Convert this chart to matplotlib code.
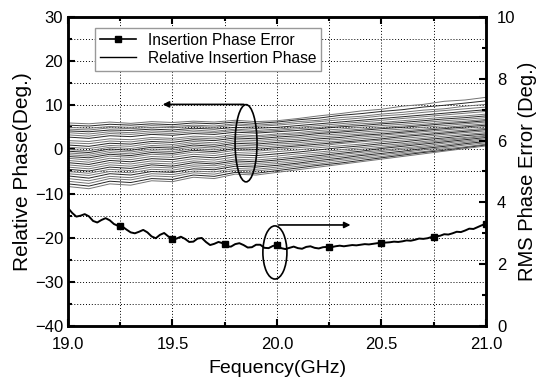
import numpy as np
import matplotlib.pyplot as plt
from matplotlib.patches import Ellipse
from matplotlib.lines import Line2D
from matplotlib.ticker import MultipleLocator

plt.rcParams['font.family'] = ['Liberation Sans', 'DejaVu Sans']

# relative insertion phase of each state, read every 0.1 GHz (deg)
phase_freq = np.linspace(19.0, 21.0, 21)
phase_lines = [
    [6.0, 5.8, 6.2, 5.9, 6.3, 6.1, 6.4, 6.2, 6.6, 6.3, 6.5, 7.0, 7.6, 8.1, 8.7, 9.1, 9.8, 10.2, 10.9, 11.2, 11.8],
    [5.5, 5.3, 5.7, 5.5, 5.8, 5.6, 6.0, 5.8, 6.2, 5.9, 6.2, 6.7, 7.1, 7.7, 8.1, 8.6, 9.0, 9.6, 10.0, 10.5, 11.0],
    [5.0, 4.8, 5.2, 5.0, 5.4, 5.2, 5.5, 5.3, 5.8, 5.5, 5.8, 6.3, 6.6, 7.2, 7.5, 8.0, 8.4, 8.9, 9.2, 9.8, 10.2],
    [4.6, 4.4, 4.9, 4.7, 5.0, 4.9, 5.2, 5.0, 5.5, 5.2, 5.5, 5.9, 6.3, 6.7, 7.1, 7.6, 7.9, 8.4, 8.8, 9.2, 9.6],
    [4.2, 4.0, 4.4, 4.3, 4.6, 4.4, 4.8, 4.6, 5.0, 4.8, 5.0, 5.4, 5.8, 6.2, 6.6, 7.0, 7.4, 7.8, 8.2, 8.6, 9.0],
    [3.8, 3.5, 4.0, 3.8, 4.2, 4.0, 4.4, 4.1, 4.6, 4.3, 4.6, 5.0, 5.4, 5.8, 6.2, 6.6, 7.0, 7.4, 7.8, 8.2, 8.6],
    [3.3, 3.0, 3.6, 3.4, 3.8, 3.6, 4.0, 3.8, 4.3, 4.0, 4.3, 4.7, 5.0, 5.4, 5.8, 6.1, 6.5, 6.9, 7.3, 7.6, 8.0],
    [2.8, 2.5, 3.1, 2.9, 3.4, 3.2, 3.6, 3.4, 3.9, 3.7, 4.0, 4.3, 4.7, 5.1, 5.4, 5.8, 6.1, 6.5, 6.9, 7.2, 7.6],
    [2.0, 1.8, 2.4, 2.2, 2.7, 2.5, 3.0, 2.8, 3.4, 3.1, 3.5, 3.8, 4.3, 4.6, 5.0, 5.4, 5.7, 6.1, 6.5, 6.8, 7.2],
    [1.5, 1.3, 1.9, 1.7, 2.3, 2.1, 2.6, 2.4, 3.0, 2.8, 3.2, 3.5, 3.9, 4.2, 4.6, 5.0, 5.3, 5.7, 6.1, 6.4, 6.8],
    [1.0, 0.7, 1.4, 1.2, 1.8, 1.6, 2.2, 2.0, 2.6, 2.4, 2.8, 3.1, 3.6, 3.9, 4.3, 4.7, 5.0, 5.4, 5.8, 6.1, 6.5],
    [0.5, 0.2, 0.9, 0.7, 1.4, 1.1, 1.8, 1.5, 2.2, 2.0, 2.4, 2.7, 3.2, 3.5, 3.9, 4.3, 4.6, 5.0, 5.4, 5.8, 6.2],
    [0.0, -0.3, 0.5, 0.2, 0.9, 0.7, 1.4, 1.1, 1.8, 1.6, 2.0, 2.3, 2.8, 3.1, 3.5, 3.9, 4.2, 4.6, 5.0, 5.4, 5.8],
    [-0.4, -0.7, 0.1, -0.2, 0.5, 0.3, 1.0, 0.7, 1.4, 1.2, 1.6, 1.9, 2.4, 2.7, 3.2, 3.5, 3.9, 4.3, 4.7, 5.1, 5.5],
    [-0.8, -1.1, -0.3, -0.6, 0.1, -0.1, 0.6, 0.3, 1.0, 0.8, 1.2, 1.5, 2.0, 2.3, 2.8, 3.2, 3.6, 4.0, 4.4, 4.8, 5.2],
    [-1.2, -1.5, -0.7, -1.0, -0.3, -0.5, 0.2, -0.1, 0.6, 0.4, 0.8, 1.1, 1.6, 1.9, 2.4, 2.8, 3.2, 3.6, 4.0, 4.4, 4.8],
    [-1.6, -1.9, -1.1, -1.4, -0.7, -0.9, -0.2, -0.5, 0.2, 0.0, 0.4, 0.8, 1.2, 1.6, 2.0, 2.4, 2.9, 3.3, 3.7, 4.1, 4.5],
    [-2.0, -2.4, -1.5, -1.8, -1.1, -1.3, -0.6, -0.9, -0.2, -0.4, 0.0, 0.4, 0.8, 1.3, 1.7, 2.1, 2.5, 2.9, 3.4, 3.8, 4.2],
    [-2.5, -2.9, -2.0, -2.3, -1.6, -1.8, -1.1, -1.4, -0.7, -0.9, -0.5, -0.1, 0.4, 0.8, 1.2, 1.7, 2.1, 2.5, 3.0, 3.4, 3.8],
    [-3.0, -3.4, -2.5, -2.8, -2.1, -2.3, -1.6, -1.9, -1.2, -1.4, -1.0, -0.6, -0.1, 0.4, 0.8, 1.3, 1.7, 2.2, 2.6, 3.1, 3.5],
    [-3.5, -3.9, -3.0, -3.3, -2.6, -2.8, -2.1, -2.4, -1.7, -1.9, -1.5, -1.0, -0.6, -0.1, 0.4, 0.9, 1.3, 1.8, 2.3, 2.7, 3.2],
    [-4.0, -4.4, -3.5, -3.8, -3.1, -3.3, -2.6, -2.9, -2.2, -2.4, -2.0, -1.5, -1.0, -0.5, 0.0, 0.5, 1.0, 1.5, 2.0, 2.5, 3.0],
    [-4.5, -4.9, -4.0, -4.3, -3.5, -3.8, -3.0, -3.3, -2.6, -2.8, -2.4, -1.9, -1.4, -0.9, -0.4, 0.2, 0.7, 1.2, 1.7, 2.2, 2.7],
    [-5.0, -5.4, -4.5, -4.8, -4.0, -4.2, -3.5, -3.7, -3.0, -3.2, -2.8, -2.3, -1.8, -1.2, -0.7, -0.2, 0.3, 0.8, 1.4, 1.9, 2.4],
    [-5.5, -5.9, -5.0, -5.3, -4.5, -4.7, -3.9, -4.2, -3.4, -3.6, -3.2, -2.7, -2.1, -1.6, -1.1, -0.5, 0.0, 0.5, 1.0, 1.6, 2.1],
    [-6.0, -6.5, -5.5, -5.8, -5.0, -5.2, -4.4, -4.6, -3.8, -4.0, -3.6, -3.1, -2.5, -2.0, -1.4, -0.9, -0.4, 0.2, 0.7, 1.3, 1.8],
    [-6.6, -7.1, -6.1, -6.4, -5.5, -5.7, -4.9, -5.1, -4.3, -4.5, -4.0, -3.4, -2.9, -2.3, -1.8, -1.2, -0.7, -0.1, 0.4, 1.0, 1.5],
    [-7.2, -7.7, -6.6, -6.9, -6.0, -6.2, -5.3, -5.6, -4.7, -4.9, -4.4, -3.8, -3.3, -2.7, -2.1, -1.6, -1.0, -0.5, 0.1, 0.6, 1.2],
    [-7.8, -8.3, -7.2, -7.5, -6.6, -6.8, -5.8, -6.1, -5.2, -5.4, -4.8, -4.2, -3.6, -3.1, -2.5, -1.9, -1.3, -0.7, -0.2, 0.4, 1.0],
    [-8.4, -8.9, -7.8, -8.1, -7.1, -7.3, -6.3, -6.6, -5.6, -5.8, -5.2, -4.6, -4.0, -3.4, -2.8, -2.2, -1.6, -1.0, -0.4, 0.2, 0.8],
]

# rms phase error, read every 0.02 GHz (deg)
rms_freq = np.linspace(19.0, 21.0, 101)
rms_err = [
    3.82, 3.66, 3.54, 3.57, 3.62, 3.55, 3.40, 3.35, 3.43, 3.49,
    3.42, 3.30, 3.24, 3.22, 3.12, 3.03, 3.00, 3.05, 3.11, 3.03,
    2.90, 2.84, 2.95, 3.01, 2.90, 2.80, 2.83, 2.89, 2.82, 2.72,
    2.73, 2.83, 2.85, 2.72, 2.62, 2.66, 2.72, 2.68, 2.57, 2.57,
    2.65, 2.68, 2.62, 2.54, 2.55, 2.63, 2.63, 2.53, 2.52, 2.59,
    2.62, 2.52, 2.49, 2.53, 2.57, 2.52, 2.50, 2.56, 2.58, 2.53,
    2.51, 2.55, 2.56, 2.55, 2.58, 2.60, 2.58, 2.60, 2.62, 2.61,
    2.63, 2.65, 2.64, 2.66, 2.68, 2.69, 2.70, 2.71, 2.73, 2.72,
    2.74, 2.77, 2.76, 2.79, 2.83, 2.82, 2.84, 2.88, 2.90, 2.92,
    2.97, 2.96, 3.00, 3.05, 3.04, 3.09, 3.15, 3.14, 3.20, 3.26,
    3.31,
]
mark_freq = [19.25, 19.5, 19.75, 20.0, 20.25, 20.5, 20.75, 21.0]
mark_err = [3.24, 2.80, 2.66, 2.62, 2.55, 2.69, 2.88, 3.31]

fig = plt.figure(figsize=(5.37, 3.86), dpi=100)
ax = fig.add_axes([0.1266, 0.1554, 0.7784, 0.8006])
ax2 = ax.twinx()

for i, row in enumerate(phase_lines):
    c = '0.15' if i % 3 == 1 else '0.45'
    ax.plot(phase_freq, row, color=c, lw=0.7)

ax2.plot(rms_freq, rms_err, color='k', lw=1.4)
ax2.plot(mark_freq, mark_err, ls='none', marker='s', ms=5, color='k')

ax.set_xlim(19, 21)
ax.set_ylim(-40, 30)
ax2.set_ylim(0, 10)
ax.xaxis.set_major_locator(MultipleLocator(0.5))
ax.xaxis.set_minor_locator(MultipleLocator(0.25))
ax.yaxis.set_major_locator(MultipleLocator(10))
ax.yaxis.set_minor_locator(MultipleLocator(5))
ax2.yaxis.set_major_locator(MultipleLocator(2))
ax2.yaxis.set_minor_locator(MultipleLocator(1))
ax.grid(True, which='both', ls=(0, (1, 2)), color='k', lw=0.7)

for a in (ax, ax2):
    a.tick_params(which='both', direction='in', top=True, width=1.5, labelsize=12)
    a.tick_params(which='major', length=5)
    a.tick_params(which='minor', length=3)
    for s in a.spines.values():
        s.set_linewidth(1.8)
ax.tick_params(axis='x', pad=8)
ax2.tick_params(axis='y', pad=8)

ax.set_xlabel('Fequency(GHz)', fontsize=14, labelpad=6)
ax.set_ylabel('Relative Phase(Deg.)', fontsize=15, labelpad=2)
ax2.set_ylabel('RMS Phase Error (Deg.)', fontsize=14.5, labelpad=2)

# annotations
ax.add_patch(Ellipse((19.852, 1.4), 0.105, 17.5, fill=False, ec='k', lw=1.2, zorder=5))
ax.annotate('', xy=(19.44, 10.2), xytext=(19.855, 10.2),
            arrowprops=dict(arrowstyle='-|>', color='k', lw=1.2, mutation_scale=9))
ax2.add_patch(Ellipse((19.99, 2.38), 0.115, 1.72, fill=False, ec='k', lw=1.2, zorder=5))
ax2.annotate('', xy=(20.365, 3.27), xytext=(19.995, 3.27),
             arrowprops=dict(arrowstyle='-|>', color='k', lw=1.2, mutation_scale=9))

handles = [Line2D([], [], color='k', marker='s', ms=5, lw=1.2),
           Line2D([], [], color='k', lw=1.0)]
ax2.legend(handles, ['Insertion Phase Error', 'Relative Insertion Phase'],
           loc='upper left', bbox_to_anchor=(0.065, 0.964), fontsize=11.2,
           frameon=True, fancybox=False, edgecolor='0.6', framealpha=1,
           handlelength=2.3, borderpad=0.3, labelspacing=0.2, borderaxespad=0)

fig.savefig('out.png', dpi=100)
